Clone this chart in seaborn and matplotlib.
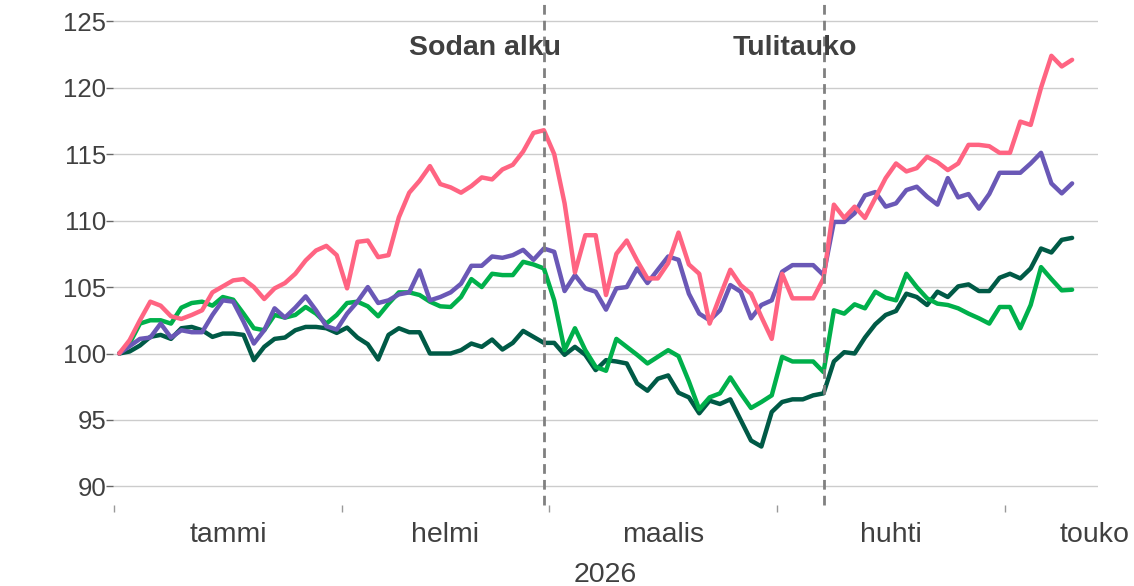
import numpy as np
import pandas as pd
import matplotlib
matplotlib.use("Agg")
import matplotlib.pyplot as plt
import seaborn as sns

# arkipäivät 2.1.-11.5.2026 (pyhät mukana, arvo kulkee edellisestä)
dates = pd.bdate_range("2026-01-01", "2026-05-11")

pink = [100.0, 101.0, 102.5, 103.9, 103.6, 102.8, 102.6, 102.9, 103.25, 104.6,
        105.05, 105.5, 105.6, 105.0, 104.1, 104.9, 105.3, 106.0, 107.0, 107.75,
        108.1, 107.4, 104.9, 108.4, 108.5, 107.25, 107.4, 110.25, 112.1, 113.0,
        114.1, 112.75, 112.5, 112.1, 112.6, 113.25, 113.1, 113.85, 114.2, 115.2,
        116.6, 116.8, 115.0, 111.3, 106.1, 108.9, 108.9, 104.4, 107.5, 108.5,
        107.0, 105.65, 105.65, 106.8, 109.1, 106.7, 106.0, 102.25, 104.3, 106.3,
        105.15, 104.5, 102.75, 101.1, 106.0, 104.15, 104.15, 104.15, 105.65, 111.2,
        110.2, 111.05, 110.2, 111.7, 113.2, 114.3, 113.7, 113.95, 114.8, 114.4,
        113.8, 114.3, 115.7, 115.7, 115.6, 115.1, 115.1, 117.45, 117.2, 120.0,
        122.4, 121.6, 122.1]
purple = [100.0, 100.55, 101.1, 101.2, 102.25, 101.2, 101.75, 101.6, 101.6, 102.9,
          104.0, 103.9, 102.4, 100.75, 101.75, 103.4, 102.7, 103.45, 104.3, 103.25,
          102.05, 101.8, 103.0, 103.9, 105.0, 103.8, 104.0, 104.45, 104.6, 106.25,
          104.0, 104.25, 104.6, 105.25, 106.6, 106.6, 107.3, 107.2, 107.4, 107.8,
          107.05, 107.9, 107.65, 104.7, 105.9, 104.9, 104.65, 103.3, 104.9, 105.0,
          106.4, 105.3, 106.3, 107.3, 107.05, 104.5, 103.0, 102.5, 103.25, 105.15,
          104.65, 102.65, 103.65, 104.0, 106.15, 106.65, 106.65, 106.65, 105.9, 109.9,
          109.9, 110.55, 111.9, 112.15, 111.05, 111.3, 112.3, 112.55, 111.8, 111.2,
          113.2, 111.75, 112.0, 110.9, 112.0, 113.6, 113.6, 113.6, 114.3, 115.1,
          112.8, 112.05, 112.8]
green = [100.0, 100.75, 102.25, 102.5, 102.5, 102.25, 103.45, 103.8, 103.9, 103.6,
         104.25, 104.05, 103.0, 101.9, 101.75, 102.9, 102.7, 102.9, 103.5, 103.0,
         102.25, 102.9, 103.8, 103.9, 103.55, 102.8, 103.75, 104.6, 104.6, 104.4,
         103.9, 103.55, 103.5, 104.25, 105.6, 105.0, 106.0, 105.9, 105.9, 106.9,
         106.7, 106.4, 104.0, 100.25, 101.9, 100.25, 99.0, 98.7, 101.1, 100.5,
         99.9, 99.25, 99.75, 100.25, 99.8, 97.9, 95.8, 96.7, 97.0, 98.2,
         97.0, 95.9, 96.35, 96.85, 99.75, 99.4, 99.4, 99.4, 98.6, 103.25,
         103.0, 103.7, 103.4, 104.65, 104.2, 104.0, 106.0, 105.0, 104.15, 103.75,
         103.65, 103.4, 103.0, 102.65, 102.25, 103.5, 103.5, 101.9, 103.65, 106.5,
         105.6, 104.75, 104.8]
darkgreen = [100.0, 100.15, 100.6, 101.25, 101.4, 101.1, 101.9, 102.0, 101.75, 101.25,
             101.5, 101.5, 101.4, 99.5, 100.5, 101.1, 101.2, 101.75, 102.0, 102.0,
             101.9, 101.55, 101.95, 101.2, 100.7, 99.55, 101.4, 101.9, 101.6, 101.6,
             100.0, 100.0, 100.0, 100.25, 100.75, 100.5, 101.05, 100.3, 100.8, 101.7,
             101.25, 100.8, 100.8, 99.9, 100.5, 99.9, 98.75, 99.5, 99.4, 99.25,
             97.75, 97.2, 98.1, 98.35, 97.05, 96.7, 95.5, 96.45, 96.2, 96.55,
             95.0, 93.45, 93.0, 95.6, 96.35, 96.55, 96.55, 96.85, 97.0, 99.4,
             100.1, 100.0, 101.2, 102.2, 102.9, 103.2, 104.5, 104.25, 103.65, 104.65,
             104.25, 105.05, 105.2, 104.7, 104.7, 105.7, 106.0, 105.65, 106.4, 107.9,
             107.6, 108.55, 108.7]

series = {"tummanvihreä": darkgreen, "vihreä": green, "violetti": purple, "pinkki": pink}
colors = {"tummanvihreä": "#005a46", "vihreä": "#00b04b", "violetti": "#6a58b6", "pinkki": "#ff6482"}

month_names = ["tammi", "helmi", "maalis", "huhti", "touko"]
events = [("2026-02-27", "Sodan alku"), ("2026-04-07", "Tulitauko")]

pos = np.arange(len(dates))
df = pd.concat([pd.DataFrame({"pos": pos, "pvm": dates, "arvo": v, "sarja": k})
                for k, v in series.items()])

sns.set_style("white")
plt.rcParams["font.family"] = ["Liberation Sans", "DejaVu Sans"]

fig = plt.figure(figsize=(11.34, 5.86), dpi=100)
ax = fig.add_axes([113/1134, 81/586, 985/1134, 505/586])

sns.lineplot(data=df, x="pos", y="arvo", hue="sarja", hue_order=list(series),
             palette=colors, linewidth=3.2, legend=False, ax=ax)

ax.set_xlim(-0.6, 94.5)
ax.set_ylim(88.6, 126.6)
ax.set_yticks(range(90, 126, 5))
ax.grid(axis="y", color="#cccccc", linewidth=1)
ax.grid(axis="x", visible=False)
ax.tick_params(axis="y", left=True, length=5, width=1, color="#666666",
               labelsize=18.5, labelcolor="#404040", pad=0)
sns.despine(ax=ax, left=True, bottom=True)

# kuukausirajat ja nimet kuukauden keskelle
month = dates.month
starts = [0] + list(np.where(month[1:] != month[:-1])[0] + 1)
bounds = [s - 0.5 for s in starts]
ax.set_xticks(bounds, minor=True)
ax.tick_params(axis="x", which="minor", bottom=True, length=5, color="#999999", width=1)
ends = bounds[1:] + [bounds[-1] + 21]
mids = [min((a + b) / 2, 94.2) for a, b in zip(bounds, ends)]
ax.set_xticks(mids)
ax.set_xticklabels(month_names)
ax.tick_params(axis="x", which="major", length=0, labelsize=20.5, labelcolor="#404040", pad=12)
ax.set_xlabel("2026", fontsize=20.5, color="#404040", labelpad=10)
ax.set_ylabel("")

# tekstien paikka suhteessa viivaan
text_shift = [-5.7, -2.8]
for (d, txt), dx in zip(events, text_shift):
    i = dates.get_loc(pd.Timestamp(d))
    ax.axvline(i, color="#808080", linewidth=2, linestyle=(0, (3.5, 2.2)), clip_on=False)
    ax.text(i + dx, 123.0, txt, ha="center", va="center", fontsize=20.5,
            fontweight="bold", color="#404040")

plt.savefig("out.png", dpi=100)
